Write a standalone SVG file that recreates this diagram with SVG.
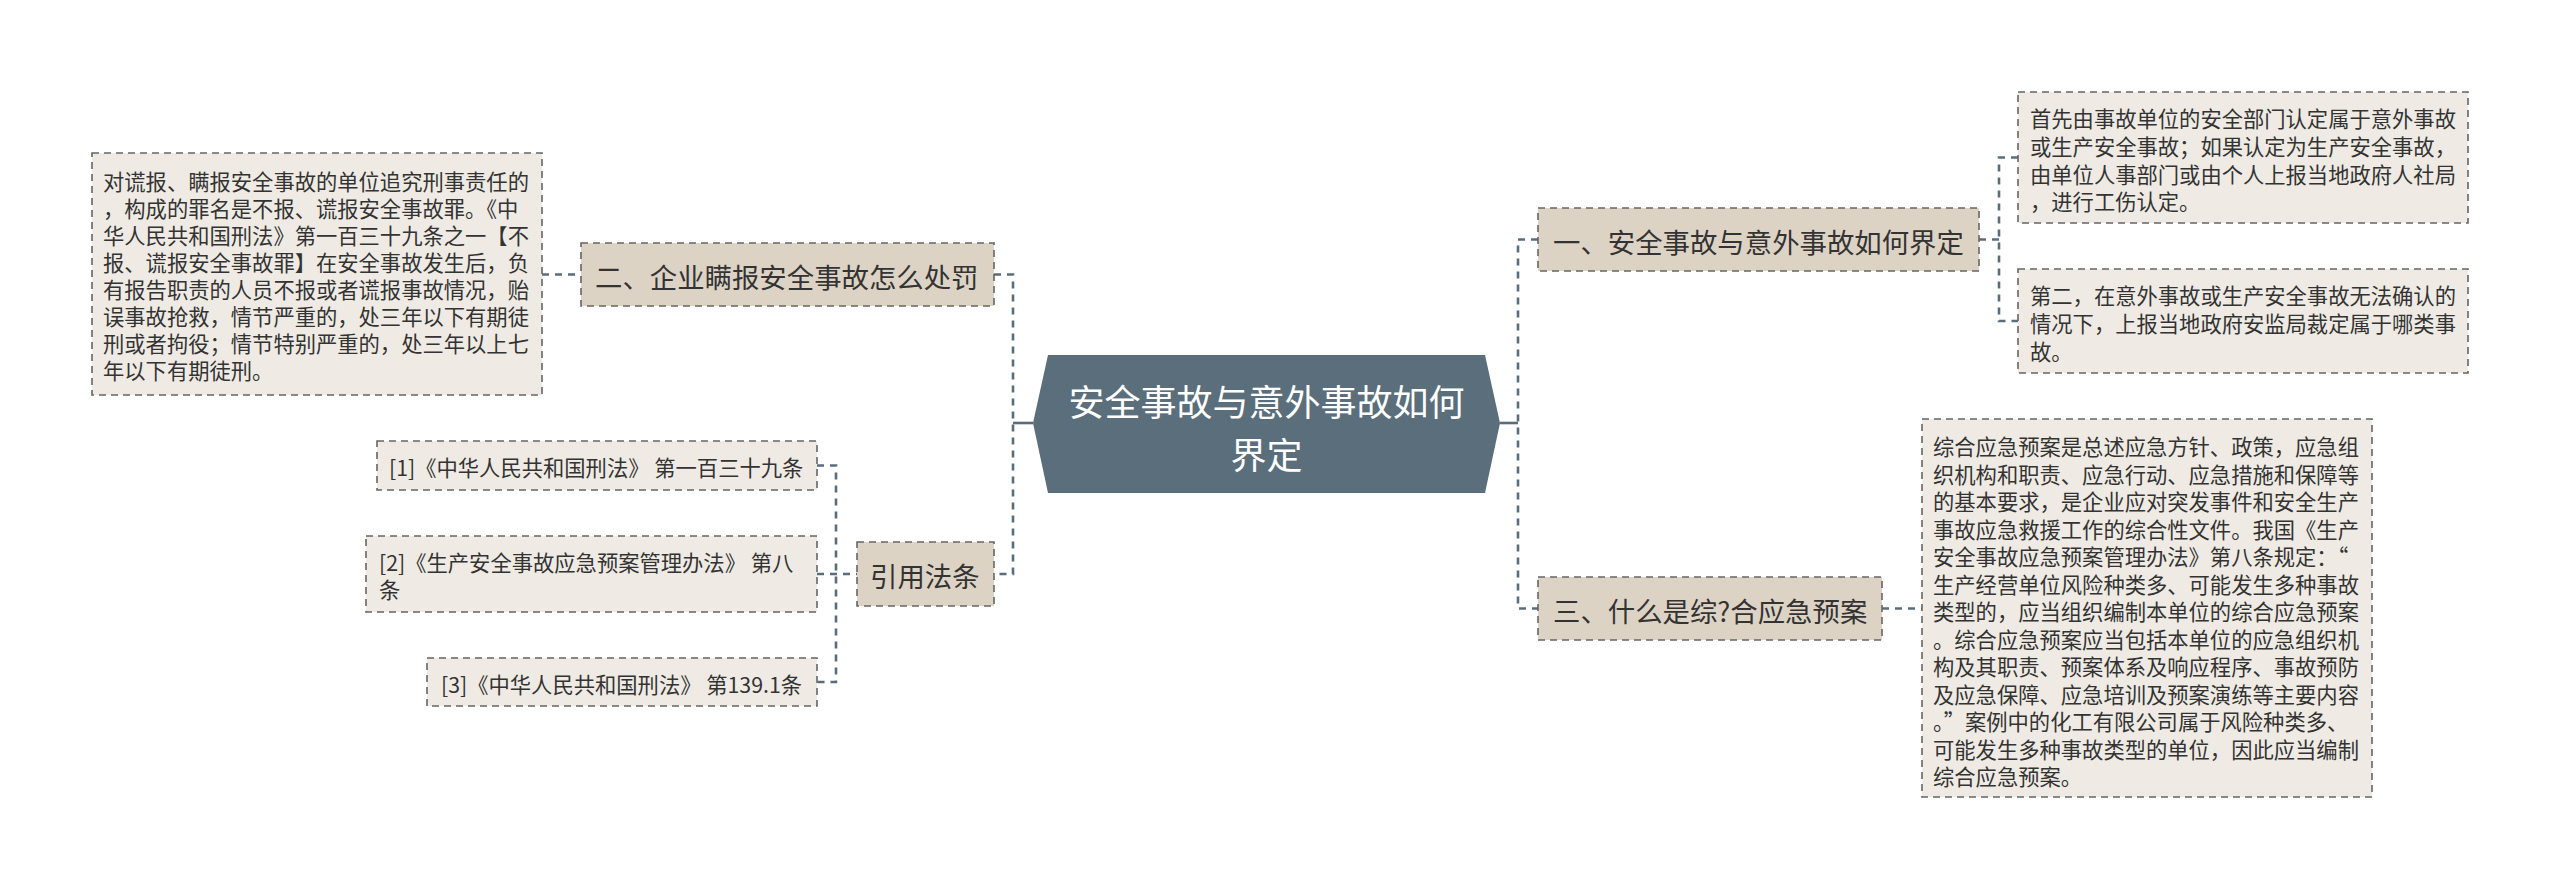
<svg xmlns="http://www.w3.org/2000/svg" width="2560" height="890" viewBox="0 0 2560 890">
<style>
text{font-family:"Noto Sans CJK SC","Noto Sans",sans-serif;fill:#333;dominant-baseline:central}
.leaf{fill:#efebe4;stroke:#666;stroke-width:1.6;stroke-dasharray:7 5}
.br{fill:#ddd3c5;stroke:#666;stroke-width:1.6;stroke-dasharray:7 5}
.lt{font-size:21.3px}
.bt{font-size:27.4px}
.ct{font-size:36px;fill:#fff;text-anchor:middle}
.con{fill:none;stroke:#5a6d7a;stroke-width:2.6;stroke-dasharray:7 6}
.solid{fill:none;stroke:#5a6d7a;stroke-width:2.6}
</style>
<rect width="2560" height="890" fill="#fff"/>
<g id="connectors">
<path class="solid" d="M1033,423 H1013"/>
<path class="con" d="M994,274.5 H1013 V574 H994"/>
<path class="con" d="M542,274.5 H581"/>
<path class="con" d="M817,465.5 H836 V682 H817"/>
<path class="con" d="M817,574 H857"/>
<path class="solid" d="M1500,423 H1518"/>
<path class="con" d="M1538,239.5 H1518 V608.5 H1538"/>
<path class="con" d="M2018,157.5 H1999 V321 H2018"/>
<path class="con" d="M1979,239.5 H1999"/>
<path class="con" d="M1882,608.5 H1922"/>
</g>
<g id="center">
<polygon points="1048,355 1485,355 1500,423 1485,493 1048,493 1033,423" fill="#5b6e7b"/>
<text class="ct"><tspan x="1266.5" y="399.5">安全事故与意外事故如何</tspan><tspan x="1266.5" y="452.5">界定</tspan></text>
</g>
<g id="b1">
<rect class="br" x="1538" y="208" width="441" height="63"/>
<text class="bt" x="1553" y="240.5">一、安全事故与意外事故如何界定</text>
</g>
<g id="b2">
<rect class="br" x="581" y="243" width="413" height="63"/>
<text class="bt" x="595" y="275.5">二、企业瞒报安全事故怎么处罚</text>
</g>
<g id="b3">
<rect class="br" x="1538" y="577" width="344" height="63"/>
<text class="bt" x="1553" y="609.5">三、什么是综?合应急预案</text>
</g>
<g id="b4">
<rect class="br" x="857" y="542" width="137" height="64"/>
<text class="bt" x="870" y="575">引用法条</text>
</g>
<g id="leaf-left">
<rect class="leaf" x="92" y="153" width="450" height="242"/>
<text class="lt" x="103"><tspan x="103" y="180">对谎报、瞒报安全事故的单位追究刑事责任的</tspan><tspan x="103" y="207">，构成的罪名是不报、谎报安全事故罪。《中</tspan><tspan x="103" y="234">华人民共和国刑法》第一百三十九条之一【不</tspan><tspan x="103" y="261">报、谎报安全事故罪】在安全事故发生后，负</tspan><tspan x="103" y="288">有报告职责的人员不报或者谎报事故情况，贻</tspan><tspan x="103" y="315">误事故抢救，情节严重的，处三年以下有期徒</tspan><tspan x="103" y="342">刑或者拘役；情节特别严重的，处三年以上七</tspan><tspan x="103" y="369">年以下有期徒刑。</tspan></text>
</g>
<g id="ref1">
<rect class="leaf" x="377" y="441" width="440" height="49"/>
<text class="lt" x="389" y="466">[1]《中华人民共和国刑法》 第一百三十九条</text>
</g>
<g id="ref2">
<rect class="leaf" x="366" y="536" width="451" height="76"/>
<text class="lt"><tspan x="379" y="561">[2]《生产安全事故应急预案管理办法》 第八</tspan><tspan x="379" y="588">条</tspan></text>
</g>
<g id="ref3">
<rect class="leaf" x="427" y="658" width="390" height="48"/>
<text class="lt" x="441" y="683">[3]《中华人民共和国刑法》 第139.1条</text>
</g>
<g id="leaf-r1">
<rect class="leaf" x="2018" y="92" width="450" height="131"/>
<text class="lt"><tspan x="2030" y="117">首先由事故单位的安全部门认定属于意外事故</tspan><tspan x="2030" y="145">或生产安全事故；如果认定为生产安全事故，</tspan><tspan x="2030" y="173">由单位人事部门或由个人上报当地政府人社局</tspan><tspan x="2030" y="200">，进行工伤认定。</tspan></text>
</g>
<g id="leaf-r2">
<rect class="leaf" x="2018" y="269" width="450" height="104"/>
<text class="lt"><tspan x="2030" y="294">第二，在意外事故或生产安全事故无法确认的</tspan><tspan x="2030" y="322">情况下，上报当地政府安监局裁定属于哪类事</tspan><tspan x="2030" y="350">故。</tspan></text>
</g>
<g id="leaf-r3">
<rect class="leaf" x="1922" y="419" width="450" height="378"/>
<text class="lt"><tspan x="1933" y="445">综合应急预案是总述应急方针、政策，应急组</tspan><tspan x="1933" y="472.5">织机构和职责、应急行动、应急措施和保障等</tspan><tspan x="1933" y="500">的基本要求，是企业应对突发事件和安全生产</tspan><tspan x="1933" y="527.5">事故应急救援工作的综合性文件。我国《生产</tspan><tspan x="1933" y="555">安全事故应急预案管理办法》第八条规定：“</tspan><tspan x="1933" y="582.5">生产经营单位风险种类多、可能发生多种事故</tspan><tspan x="1933" y="610">类型的，应当组织编制本单位的综合应急预案</tspan><tspan x="1933" y="637.5">。综合应急预案应当包括本单位的应急组织机</tspan><tspan x="1933" y="665">构及其职责、预案体系及响应程序、事故预防</tspan><tspan x="1933" y="692.5">及应急保障、应急培训及预案演练等主要内容</tspan><tspan x="1933" y="720">。”案例中的化工有限公司属于风险种类多、</tspan><tspan x="1933" y="747.5">可能发生多种事故类型的单位，因此应当编制</tspan><tspan x="1933" y="775">综合应急预案。</tspan></text>
</g>
</svg>
